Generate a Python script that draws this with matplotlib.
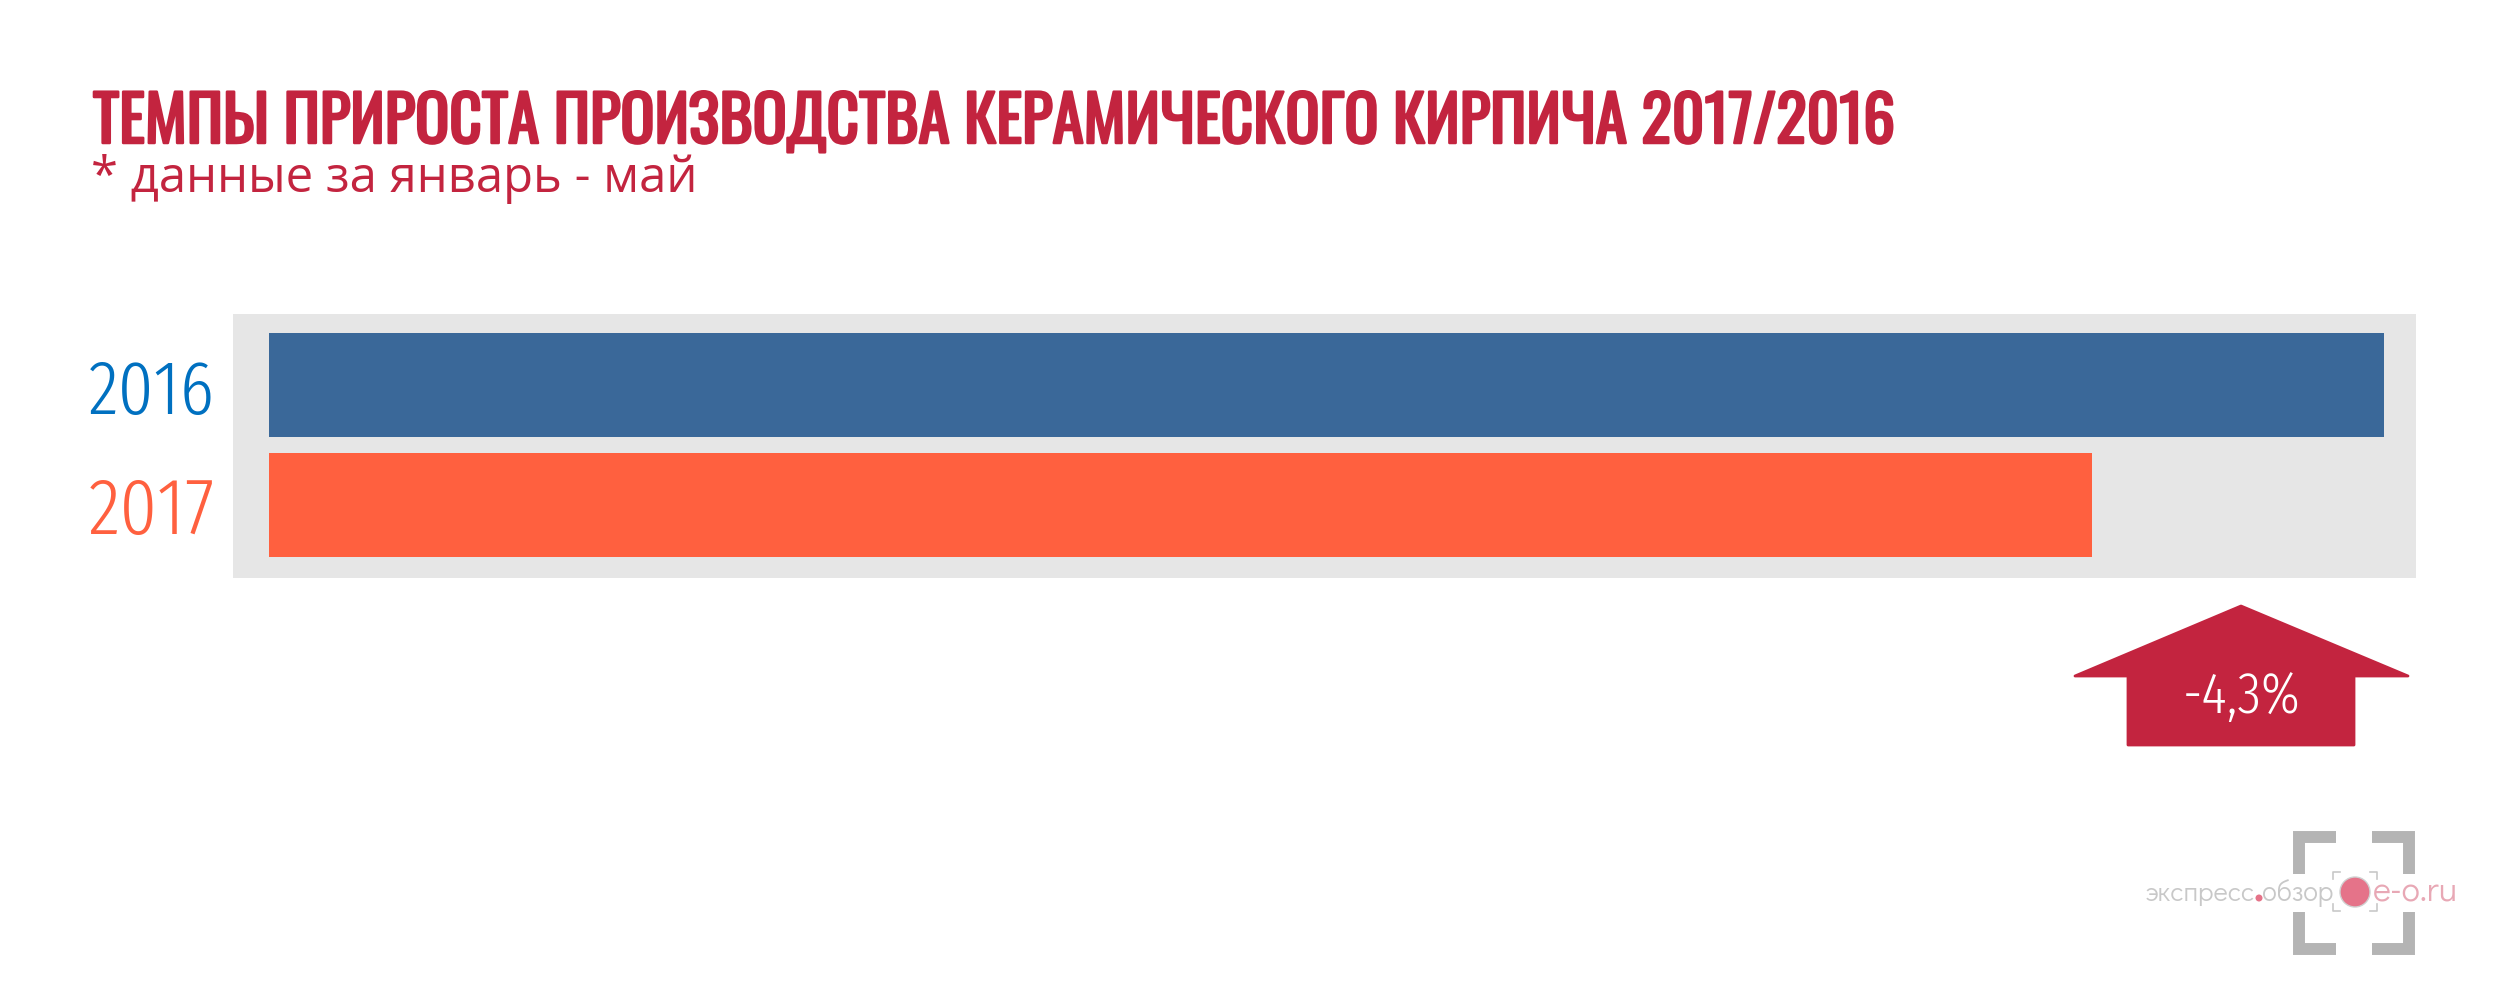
import matplotlib
matplotlib.use('Agg')
import matplotlib.pyplot as plt
import matplotlib.patheffects as pe
from matplotlib.patches import Polygon, Circle

# data
years = ['2016', '2017']
values = [100.0, 86.2]        # bar lengths as drawn (2016 = 100)
change_label = '-4,3%'
title = 'ТЕМПЫ ПРИРОСТА ПРОИЗВОДСТВА КЕРАМИЧЕСКОГО КИРПИЧА 2017/2016'
subtitle = '* данные за январь - май'

red = '#C3243F'
bar_colors = ['#3A6899', '#FF603F']
label_colors = ['#0070C0', '#FF603F']

cond = ['Fira Sans Extra Condensed', 'Oswald', 'Roboto Condensed', 'DejaVu Sans']
title_font = ['Oswald', 'Fira Sans Extra Condensed', 'DejaVu Sans']

W, H = 2500, 1008
fig = plt.figure(figsize=(W / 100, H / 100), dpi=100)

# bar panel
ax = fig.add_axes([233 / W, 1 - 578 / H, (2416 - 233) / W, (578 - 314) / H])
ax.set_facecolor('#E6E6E6')
ypos = list(range(len(years)))
ax.barh(ypos, values, height=0.867, color=bar_colors, left=0)
ax.set_xlim(-1.70, 101.51)
ax.set_ylim(1.608, -0.592)
for s in ax.spines.values():
    s.set_visible(False)
ax.set_xticks([])
ax.set_yticks([])

# overlay in pixel coordinates
ov = fig.add_axes([0, 0, 1, 1])
ov.set_xlim(0, W)
ov.set_ylim(H, 0)
ov.axis('off')
ov.patch.set_alpha(0)

fig.canvas.draw()
rend = fig.canvas.get_renderer()

def fit(t, target_w):
    w = t.get_window_extent(rend).width
    t.set_fontsize(t.get_fontsize() * target_w / w)

t1 = ov.text(93, 143, title, fontsize=50, family=title_font,
             color=red, ha='left', va='baseline',
             path_effects=[pe.withStroke(linewidth=1.8, foreground=red)])
fit(t1, 1802)
t2 = ov.text(91, 192, subtitle, fontsize=30, family=['Open Sans', 'DejaVu Sans'],
             color=red, ha='left', va='baseline')
fit(t2, 606)

for i, (yr, c) in enumerate(zip(years, label_colors)):
    t = ov.text(89, 414 + i * 120, yr, fontsize=40, fontweight=300, family=cond,
                color=c, ha='left', va='baseline')
    fit(t, 126)

# arrow badge
arrow = Polygon([(2241, 606), (2408, 676), (2354, 676), (2354, 745),
                 (2128, 745), (2128, 676), (2075, 676)],
                closed=True, facecolor=red, edgecolor=red, lw=2, joinstyle='round')
ov.add_patch(arrow)
ta = ov.text(2242, 713, change_label, fontsize=40, fontweight=300, family=cond,
             color='white', ha='center', va='baseline')
fit(ta, 118)

# logo
g = '#B4B4B4'
arm = 37
x0, x1, y0, y1 = 2299, 2409, 837, 949
for (cx, cy, dx, dy) in [(x0, y0, 1, 1), (x1, y0, -1, 1), (x0, y1, 1, -1), (x1, y1, -1, -1)]:
    ov.plot([cx, cx, cx + dx * arm], [cy + dy * arm, cy, cy], color=g, lw=8.6,
            solid_joinstyle='miter', solid_capstyle='butt')
sg = '#C8C8C8'
for (cx, cy, dx, dy) in [(2333, 872, 1, 1), (2377, 872, -1, 1), (2333, 911, 1, -1), (2377, 911, -1, -1)]:
    ov.plot([cx, cx, cx + dx * 7], [cy + dy * 7, cy, cy], color=sg, lw=1.2)
ov.add_patch(Circle((2355, 892), 15, facecolor='#E57389', edgecolor='#D0D0D0', lw=1))
logo_font = ['Didact Gothic', 'DejaVu Sans']
ta1 = ov.text(2145, 901, 'экспресс', fontsize=16, family=logo_font, color=sg,
              ha='left', va='baseline')
fit(ta1, 110)
ov.add_patch(Circle((2259, 898), 3.5, facecolor='#E57389', edgecolor='none'))
ta2 = ov.text(2262, 901, 'обзор', fontsize=ta1.get_fontsize(), family=logo_font, color=sg,
              ha='left', va='baseline')
fit(ta2, 71)
tr = ov.text(2373, 901, 'e-o.ru', fontsize=ta1.get_fontsize(), family=logo_font,
             color='#E8A8B5', ha='left', va='baseline')
fit(tr, 85)

fig.savefig('out.png', dpi=100)
